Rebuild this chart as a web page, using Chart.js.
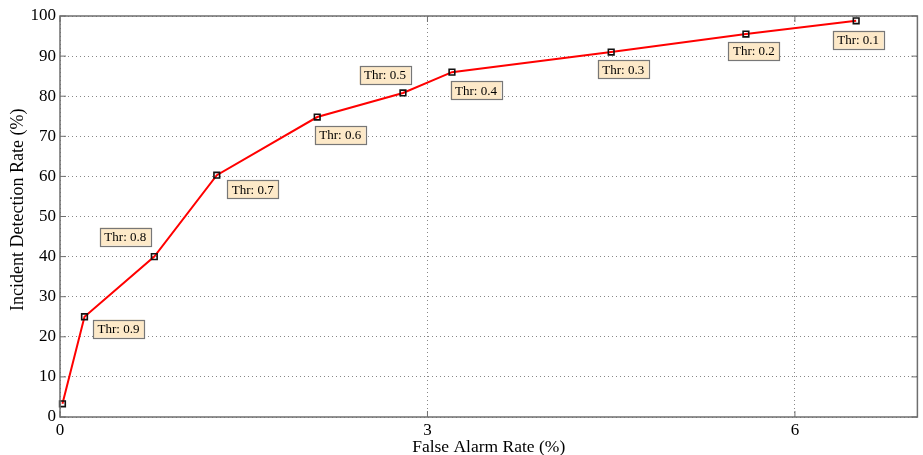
<!DOCTYPE html>
<html>
<head>
<meta charset="utf-8">
<script src="https://cdn.jsdelivr.net/npm/chart.js@4"></script>
<style>
  html, body { margin: 0; padding: 0; background: #fff; }
  #wrap { width: 923px; height: 455px; position: relative; }
</style>
</head>
<body>
<div id="wrap"><canvas id="roc"></canvas></div>
<script>
// ROC points
const falseAlarm = [0.02, 0.2, 0.77, 1.28, 2.1, 2.8, 3.2, 4.5, 5.6, 6.5];
const detection = [3.3, 25, 40, 60.3, 74.8, 80.8, 86, 91, 95.5, 98.8];
const thresholds = [null, 0.9, 0.8, 0.7, 0.6, 0.5, 0.4, 0.3, 0.2, 0.1];
const xTicks = [0, 3, 6];
const yTicks = [0, 10, 20, 30, 40, 50, 60, 70, 80, 90, 100];

// where each threshold box sits relative to its point (px)
const labelOffsets = [null, [34, 12], [-29, -20], [36, 14], [23, 18], [-18, -18], [24, 18], [12, 17], [8, 17], [2, 19]];

const serif = "'Liberation Serif', 'DejaVu Serif', serif";

// inside tick marks + full frame like the matlab plot
const framePlugin = {
  id: "frame",
  afterDatasetsDraw(chart) {
    const { ctx, chartArea: a, scales } = chart;
    ctx.save();
    ctx.strokeStyle = "#6e6e6e";
    ctx.lineWidth = 1.5;
    ctx.strokeRect(a.left, a.top, a.right - a.left, a.bottom - a.top);
    ctx.lineWidth = 1;
    ctx.beginPath();
    xTicks.forEach((v) => {
      const px = scales.x.getPixelForValue(v);
      ctx.moveTo(px, a.bottom); ctx.lineTo(px, a.bottom - 6);
      ctx.moveTo(px, a.top); ctx.lineTo(px, a.top + 6);
    });
    yTicks.forEach((v) => {
      const py = scales.y.getPixelForValue(v);
      ctx.moveTo(a.left, py); ctx.lineTo(a.left + 6, py);
      ctx.moveTo(a.right, py); ctx.lineTo(a.right - 6, py);
    });
    ctx.stroke();
    ctx.restore();
  },
};

// "Thr: x" boxes
const thrLabels = {
  id: "thrLabels",
  afterDraw(chart) {
    const { ctx, scales } = chart;
    ctx.save();
    ctx.font = "13px " + serif;
    ctx.textAlign = "center";
    ctx.textBaseline = "middle";
    thresholds.forEach((t, i) => {
      if (t === null) return;
      const px = scales.x.getPixelForValue(falseAlarm[i]);
      const py = scales.y.getPixelForValue(detection[i]);
      const cx = px + labelOffsets[i][0];
      const cy = py + labelOffsets[i][1];
      const txt = "Thr: " + t.toFixed(1);
      const w = ctx.measureText(txt).width + 9;
      const h = 18;
      ctx.fillStyle = "#fde9c8";
      ctx.fillRect(cx - w / 2, cy - h / 2, w, h);
      ctx.strokeStyle = "#777";
      ctx.lineWidth = 1.2;
      ctx.strokeRect(Math.round(cx - w / 2) + 0.5, Math.round(cy - h / 2) + 0.5, Math.round(w), h);
      ctx.fillStyle = "#000";
      ctx.fillText(txt, cx, cy + 1);
    });
    ctx.restore();
  },
};

const ctx = document.getElementById("roc").getContext("2d");

const config = {
  type: "line",
  data: {
    datasets: [
      {
        data: falseAlarm.map((x, i) => ({ x: x, y: detection[i] })),
        borderColor: "#ff0000",
        borderWidth: 2,
        pointStyle: "rect",
        pointRadius: 4,
        pointBackgroundColor: "rgba(0,0,0,0)",
        pointBorderColor: "#111",
        pointBorderWidth: 1.6,
        tension: 0,
        clip: false,
      },
    ],
  },
  options: {
    responsive: true,
    maintainAspectRatio: false,
    animation: false,
    layout: { padding: { top: 16, right: 5 } },
    plugins: {
      legend: { display: false },
      tooltip: { enabled: false },
    },
    scales: {
      x: {
        type: "linear",
        min: 0,
        max: 7,
        afterBuildTicks: (axis) => { axis.ticks = xTicks.map((v) => ({ value: v })); },
        afterFit: (axis) => { axis.height = 38; },
        grid: { color: "#888", lineWidth: 1, drawTicks: false },
        border: { display: false, dash: [1, 3] },
        ticks: { color: "#000", font: { family: serif, size: 17 }, padding: 3, maxRotation: 0 },
        title: { display: true, text: "False Alarm Rate (%)", color: "#000", font: { family: serif, size: 17.5 }, padding: { top: 0, bottom: -3 } },
      },
      y: {
        min: 0,
        max: 100,
        afterBuildTicks: (axis) => { axis.ticks = yTicks.map((v) => ({ value: v })); },
        afterFit: (axis) => { axis.width = 60; },
        grid: { color: "#888", lineWidth: 1, drawTicks: false },
        border: { display: false, dash: [1, 3] },
        ticks: { color: "#000", font: { family: serif, size: 17 }, padding: 4 },
        title: { display: true, text: "   Incident Detection Rate (%)", color: "#000", font: { family: serif, size: 18 }, padding: { top: 7, bottom: 0 } },
      },
    },
  },
  plugins: [framePlugin, thrLabels],
};

const rocChart = new Chart(ctx, config);
</script>
</body>
</html>
